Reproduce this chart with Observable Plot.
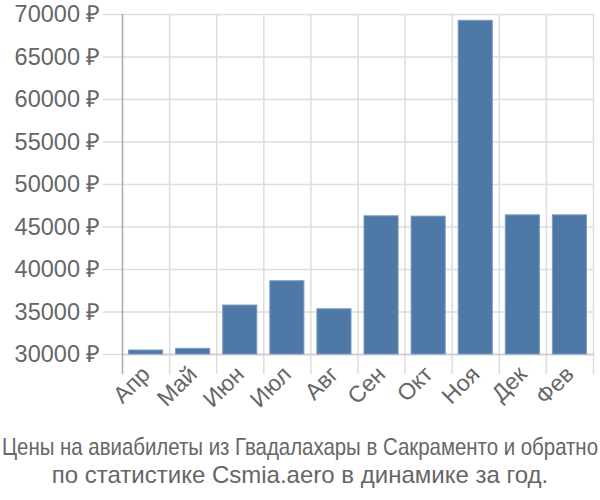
<!DOCTYPE html>
<html>
<head>
<meta charset="utf-8">
<script src="https://cdn.jsdelivr.net/npm/d3@7"></script>
<script src="https://cdn.jsdelivr.net/npm/@observablehq/plot@0.6"></script>
<style>
  body { margin: 0; background: #fff; font-family: "Liberation Sans", Arial, sans-serif; }
  #wrap { width: 600px; height: 500px; position: relative; }
  .cap { position: absolute; left: 0; width: 600px; text-align: center; color: #666; }
</style>
</head>
<body>
<div id="wrap"></div>
<script>
const months = ["Апр", "Май", "Июн", "Июл", "Авг", "Сен", "Окт", "Ноя", "Дек", "Фев"];
const prices = [30470, 30660, 35760, 38620, 35320, 46260, 46220, 69260, 46370, 46370];
const yTicks = [30000, 35000, 40000, 45000, 50000, 55000, 60000, 65000, 70000];
const captionLine1 = "Цены на авиабилеты из Гвадалахары в Сакраменто и обратно";
const captionLine2 = "по статистике Csmia.aero в динамике за год.";

const data = months.map((m, i) => ({month: m, idx: i, price: prices[i]}));
const edges = d3.range(months.length + 1);
const centers = months.map((m, i) => i + 0.5);
const FONT = "'Liberation Sans', Arial, sans-serif";

const chart = Plot.plot({
  width: 600,
  height: 420,
  marginTop: 14,
  marginBottom: 66,
  marginLeft: 122,
  marginRight: 7,
  style: {fontFamily: FONT, fontSize: "23px", color: "#666", background: "#fff"},
  x: {type: "linear", domain: [0, months.length], label: null},
  y: {domain: [30000, 70000], label: null},
  marks: [
    Plot.gridY(yTicks, {stroke: "#ddd", strokeOpacity: 1, strokeWidth: 1.5}),
    Plot.axisY(yTicks, {tickSize: 19, tickPadding: 3, stroke: "#ddd", strokeWidth: 1.5, fill: "#666", fontSize: 23.5, tickFormat: d => d + " ₽", label: null}),
    Plot.gridX(edges.slice(1), {stroke: "#ddd", strokeOpacity: 1, strokeWidth: 1.5}),
    Plot.axisX(edges.slice(1), {tickSize: 20, stroke: "#ddd", strokeWidth: 1.5, tickFormat: () => "", label: null}),
    Plot.ruleY([30000], {stroke: "#ccc", strokeWidth: 1.5}),
    Plot.rectY(data, {x1: "idx", x2: d => d.idx + 1, y1: 30000, y2: "price", fill: "#4e79a7", stroke: "#7a9cc2", strokeWidth: 1, insetLeft: 6.5, insetRight: 6.5}),
    Plot.gridX([0], {stroke: "#aaa", strokeOpacity: 1, strokeWidth: 1.5}),
    Plot.axisX([0], {tickSize: 20, stroke: "#aaa", strokeWidth: 1.5, tickFormat: () => "", label: null}),
    Plot.axisX(centers, {tickSize: 0, tickPadding: 16, tickRotate: -45, fill: "#666", fontSize: 23, tickFormat: d => months[Math.floor(d)], label: null})
  ]
});

const wrap = document.getElementById("wrap");
wrap.appendChild(chart);

const cap1 = document.createElementNS("http://www.w3.org/2000/svg", "svg");
cap1.setAttribute("width", 600);
cap1.setAttribute("height", 34);
cap1.style.position = "absolute";
cap1.style.left = "0px";
cap1.style.top = "428px";
const t1 = document.createElementNS("http://www.w3.org/2000/svg", "text");
t1.setAttribute("x", 300);
t1.setAttribute("y", 27);
t1.setAttribute("text-anchor", "middle");
t1.setAttribute("textLength", 596);
t1.setAttribute("lengthAdjust", "spacingAndGlyphs");
t1.setAttribute("fill", "#666");
t1.setAttribute("font-size", 24);
t1.setAttribute("font-family", FONT);
t1.textContent = captionLine1;
cap1.appendChild(t1);
wrap.appendChild(cap1);

const c2 = document.createElement("div");
c2.className = "cap";
c2.style.top = "460px";
c2.style.lineHeight = "30px";
c2.style.fontSize = "24px";
c2.textContent = captionLine2;
wrap.appendChild(c2);
</script>
</body>
</html>
